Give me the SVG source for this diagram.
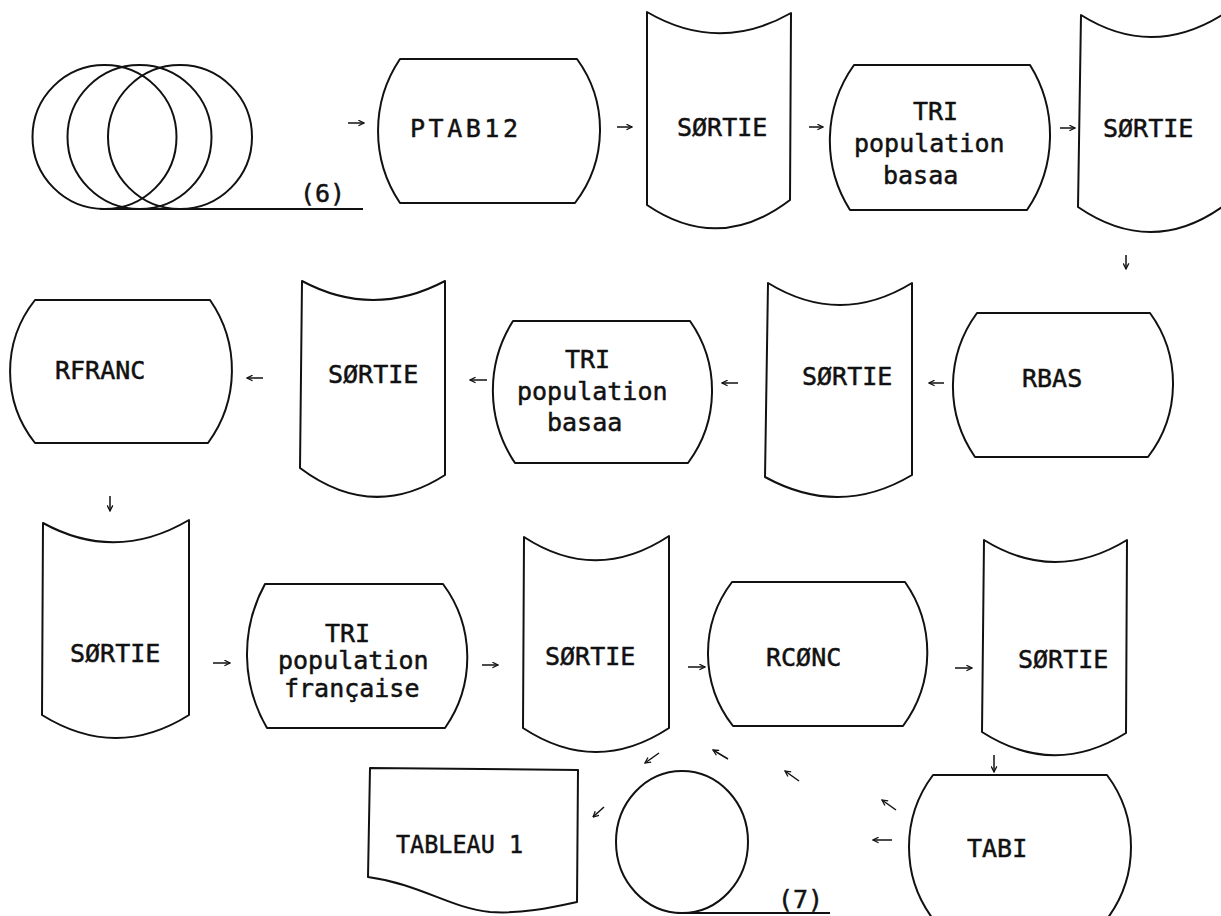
<svg xmlns="http://www.w3.org/2000/svg" width="1221" height="916" viewBox="0 0 1221 916">
<style>
  .shape { fill: none; stroke: #111; stroke-width: 2; stroke-linejoin: round; }
  .lbl { font-family: "DejaVu Sans Mono", "Liberation Mono", monospace; font-size: 25px; fill: #111; stroke: #111; stroke-width: 0.5; }
  .conn line { stroke: #111; stroke-width: 1.5; marker-end: url(#ah); }
</style>
<defs>
  <marker id="ah" viewBox="0 0 10 10" refX="9" refY="5" markerWidth="7" markerHeight="7" orient="auto" markerUnits="userSpaceOnUse">
    <path d="M1,1 L9,5 L1,9" fill="none" stroke="#111" stroke-width="1.8"/>
  </marker>
</defs>
<rect width="1221" height="916" fill="#fff"/>

<g id="tape6">
  <circle class="shape" cx="104.5" cy="137" r="72"/>
  <circle class="shape" cx="139.5" cy="137" r="72"/>
  <circle class="shape" cx="180" cy="137" r="72"/>
  <line class="shape" x1="100" y1="209" x2="363" y2="209"/>
  <text class="lbl" x="300" y="202">(6)</text>
</g>

<g id="ptab12">
  <path class="shape" d="M400,59 L577,59 A120,120 0 0 1 575,203 L400,203 A129,129 0 0 1 400,59 Z"/>
  <text class="lbl" x="410" y="137" textLength="108">PTAB12</text>
</g>

<g id="sortie1">
  <path class="shape" d="M647,12 Q719,54 791,13 L790,200 Q719,254 647,205 Z"/>
  <text class="lbl" x="677" y="136">SØRTIE</text>
</g>

<g id="tri1">
  <path class="shape" d="M854,65 L1030,65 A133,133 0 0 1 1027,210 L850,210 A130,130 0 0 1 854,65 Z"/>
  <text class="lbl" x="913" y="120">TRI</text>
  <text class="lbl" x="854" y="152">population</text>
  <text class="lbl" x="883" y="184">basaa</text>
</g>

<g id="sortie2">
  <path class="shape" d="M1081,15 Q1151,59 1222,15 L1222,207 Q1151,257 1078,207 Z"/>
  <text class="lbl" x="1103" y="137">SØRTIE</text>
</g>

<g id="rbas">
  <path class="shape" d="M977,313 L1150,313 A120,120 0 0 1 1148,457 L975,457 A124,124 0 0 1 977,313 Z"/>
  <text class="lbl" x="1022" y="387">RBAS</text>
</g>

<g id="sortie3">
  <path class="shape" d="M768,283 Q840,327 912,283 L912,475 Q840,518 765,477 Z"/>
  <text class="lbl" x="802" y="385">SØRTIE</text>
</g>

<g id="tri2">
  <path class="shape" d="M513,321 L690,321 A121,121 0 0 1 688,463 L515,463 A130,130 0 0 1 513,321 Z"/>
  <text class="lbl" x="565" y="368">TRI</text>
  <text class="lbl" x="517" y="400">population</text>
  <text class="lbl" x="547" y="431">basaa</text>
</g>

<g id="sortie4">
  <path class="shape" d="M302,281 Q373,319 445,281 L445,475 Q372,522 300,468 Z"/>
  <text class="lbl" x="328" y="383">SØRTIE</text>
</g>

<g id="rfranc">
  <path class="shape" d="M35,300 L210,300 A123,123 0 0 1 208,443 L35,443 A115,115 0 0 1 35,300 Z"/>
  <text class="lbl" x="55" y="379">RFRANC</text>
</g>

<g id="sortie5">
  <path class="shape" d="M43,523 Q116,563 189,520 L189,715 Q116,761 42,715 Z"/>
  <text class="lbl" x="70" y="662">SØRTIE</text>
</g>

<g id="trifr">
  <path class="shape" d="M265,584 L443,584 A123,123 0 0 1 445,728 L267,728 A146,146 0 0 1 265,584 Z"/>
  <text class="lbl" x="325" y="642">TRI</text>
  <text class="lbl" x="278" y="669">population</text>
  <text class="lbl" x="284" y="697">française</text>
</g>

<g id="sortie6">
  <path class="shape" d="M524,537 Q596,584 669,536 L669,728 Q596,776 523,728 Z"/>
  <text class="lbl" x="545" y="665">SØRTIE</text>
</g>

<g id="rconc">
  <path class="shape" d="M732,582 L905,582 A123,123 0 0 1 903,726 L733,726 A118,118 0 0 1 732,582 Z"/>
  <text class="lbl" x="766" y="666">RCØNC</text>
</g>

<g id="sortie7">
  <path class="shape" d="M984,540 Q1055,584 1127,540 L1126,733 Q1054,778 982,732 Z"/>
  <text class="lbl" x="1018" y="668">SØRTIE</text>
</g>

<g id="tabi">
  <path class="shape" d="M933,775 L1107,775 A120,120 0 0 1 1107,919 L933,919 A120,120 0 0 1 933,775 Z"/>
  <text class="lbl" x="967" y="857">TABI</text>
</g>

<g id="tape7">
  <ellipse class="shape" cx="682" cy="842" rx="66" ry="71"/>
  <line class="shape" x1="677" y1="913" x2="830" y2="913"/>
  <text class="lbl" x="778" y="908">(7)</text>
</g>

<g id="tableau1">
  <path class="shape" d="M370,768 L578,770 L577,902 C550,908 520,914 490,912 C450,908 420,884 368,877 Z"/>
  <text class="lbl" x="396" y="853" textLength="127" lengthAdjust="spacingAndGlyphs">TABLEAU 1</text>
</g>

<g id="connectors" class="conn">
  <line x1="348" y1="123" x2="364" y2="123"/>
  <line x1="617" y1="127" x2="632" y2="127"/>
  <line x1="809" y1="127" x2="823" y2="127"/>
  <line x1="1060" y1="128" x2="1075" y2="128"/>
  <line x1="1126" y1="255" x2="1126" y2="269"/>
  <line x1="944" y1="383" x2="929" y2="383"/>
  <line x1="738" y1="383" x2="722" y2="383"/>
  <line x1="487" y1="380" x2="470" y2="380"/>
  <line x1="263" y1="378" x2="247" y2="378"/>
  <line x1="110" y1="496" x2="110" y2="511"/>
  <line x1="213" y1="663" x2="230" y2="663"/>
  <line x1="482" y1="665" x2="498" y2="665"/>
  <line x1="688" y1="667" x2="705" y2="667"/>
  <line x1="955" y1="668" x2="972" y2="668"/>
  <line x1="994" y1="755" x2="994" y2="772"/>
  <line x1="892" y1="840" x2="873" y2="840"/>
  <line x1="896" y1="810" x2="882" y2="800"/>
  <line x1="799" y1="781" x2="785" y2="771"/>
  <line x1="728" y1="759" x2="713" y2="750"/>
  <line x1="659" y1="753" x2="645" y2="763"/>
  <line x1="604" y1="807" x2="593" y2="817"/>
</g>
</svg>
